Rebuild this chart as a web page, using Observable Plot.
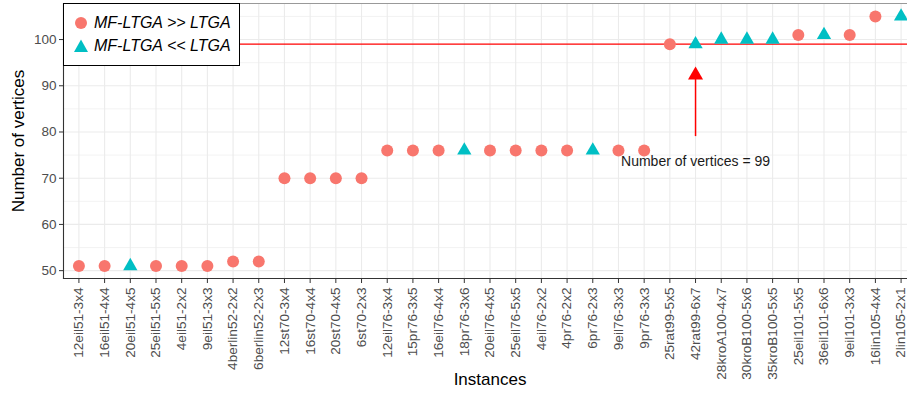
<!DOCTYPE html>
<html>
<head>
<meta charset="utf-8">
<script src="https://cdn.jsdelivr.net/npm/d3@7"></script>
<script src="https://cdn.jsdelivr.net/npm/@observablehq/plot@0.6"></script>
<style>
  html, body { margin: 0; padding: 0; background: #fff; overflow: hidden; }
  #wrap { position: relative; width: 907px; height: 396px; overflow: hidden; font-family: "Liberation Sans", Arial, sans-serif; }
  #wrap svg { max-width: none !important; }
  #legend { position: absolute; left: 63px; top: 3px; width: 175px; height: 61px; border: 1.3px solid #000; background: #fff; box-sizing: content-box; }
  .row { position: absolute; left: 10px; display: flex; align-items: center; font-style: italic; font-size: 16px; color: #000; }
  .row svg { margin-right: 6px; }
</style>
</head>
<body>
<div id="wrap"></div>
<script>
const instances = ["12eil51-3x4","16eil51-4x4","20eil51-4x5","25eil51-5x5","4eil51-2x2","9eil51-3x3","4berlin52-2x2","6berlin52-2x3","12st70-3x4","16st70-4x4","20st70-4x5","6st70-2x3","12eil76-3x4","15pr76-3x5","16eil76-4x4","18pr76-3x6","20eil76-4x5","25eil76-5x5","4eil76-2x2","4pr76-2x2","6pr76-2x3","9eil76-3x3","9pr76-3x3","25rat99-5x5","42rat99-6x7","28kroA100-4x7","30kroB100-5x6","35kroB100-5x5","25eil101-5x5","36eil101-6x6","9eil101-3x3","16lin105-4x4","2lin105-2x1"];
const vertices = [51,51,51,51,51,51,52,52,70,70,70,70,76,76,76,76,76,76,76,76,76,76,76,99,99,100,100,100,101,101,101,105,105];
const groups = ["MF-LTGA >> LTGA","MF-LTGA << LTGA"];
const groupOf = [0,0,1,0,0,0,0,0,0,0,0,0,0,0,0,1,0,0,0,0,1,0,0,0,1,1,1,1,0,1,0,0,1];
const colors = ["#F8766D","#00BFC4"];
const majorTicks = [50,60,70,80,90,100];
const minorTicks = [55,65,75,85,95,105];
const refLine = 99;
const annotInstance = "42rat99-6x7";
const annotText = "Number of vertices = 99";
const arrowFrom = 79, arrowTo = 92.3, labelY = 73.7;

const data = instances.map((d, i) => ({instance: d, vertices: vertices[i], group: groups[groupOf[i]]}));
const circles = data.filter(d => d.group === groups[0]);
const triangles = data.filter(d => d.group === groups[1]);

const chart = Plot.plot({
  width: 916, height: 396,
  marginLeft: 63, marginRight: 0, marginTop: 3, marginBottom: 118,
  style: {fontFamily: "'Liberation Sans', Arial, sans-serif", background: "#fff", maxWidth: "none"},
  x: {type: "point", domain: instances, padding: 0.6, round: false},
  y: {domain: [48.3, 107.8]},
  marks: [
    Plot.ruleY(minorTicks, {stroke: "#ebebeb", strokeWidth: 0.6}),
    Plot.ruleY(majorTicks, {stroke: "#ebebeb", strokeWidth: 1.1}),
    Plot.ruleX(instances, {stroke: "#ebebeb", strokeWidth: 1.1}),
    Plot.ruleY([107.8], {stroke: "#999", strokeWidth: 1}),
    Plot.ruleY([refLine], {stroke: "red", strokeWidth: 1.3}),
    Plot.dot(circles, {x: "instance", y: "vertices", r: 6, fill: colors[0], symbol: "circle"}),
    Plot.dot(triangles, {x: "instance", y: "vertices", r: 5.3, fill: colors[1], symbol: "triangle"}),
    Plot.ruleX([annotInstance], {y1: arrowFrom, y2: arrowTo, stroke: "red", strokeWidth: 1.5}),
    Plot.dot([annotInstance], {x: d => d, y: () => arrowTo, r: 5.6, fill: "red", symbol: "triangle"}),
    Plot.text([annotText], {x: () => annotInstance, y: () => labelY, fontSize: 14, fill: "#1a1a1a"}),
    Plot.axisY({ticks: majorTicks, tickSize: 4, tickPadding: 3, fontSize: 13.5, color: "#4d4d4d", stroke: "#333", label: null}),
    Plot.axisX({tickRotate: -90, tickSize: 5, tickPadding: 4, fontSize: 13.6, color: "#4d4d4d", stroke: "#333", label: null}),
    Plot.frame({anchor: "left", stroke: "#333", strokeWidth: 1.1}),
    Plot.frame({anchor: "bottom", stroke: "#333", strokeWidth: 1.1}),
    Plot.text(["Instances"], {frameAnchor: "bottom", dy: 106, fontSize: 17, fill: "#000"}),
    Plot.text(["Number of vertices"], {frameAnchor: "left", textAnchor: "middle", dx: -45, rotate: -90, fontSize: 17, fill: "#000"})
  ]
});

const wrap = document.getElementById("wrap");
wrap.appendChild(chart);

const legend = document.createElement("div");
legend.id = "legend";
groups.forEach((g, i) => {
  const row = document.createElement("div");
  row.className = "row";
  row.style.top = (i === 0 ? 10 : 33) + "px";
  const icon = i === 0
    ? `<svg width="14" height="14"><circle cx="7" cy="7" r="6" fill="${colors[0]}"/></svg>`
    : `<svg width="14" height="14"><path d="M7,0.5 L14,13 L0,13 Z" fill="${colors[1]}"/></svg>`;
  row.innerHTML = icon + `<span>${g}</span>`;
  legend.appendChild(row);
});
wrap.appendChild(legend);
</script>
</body>
</html>
